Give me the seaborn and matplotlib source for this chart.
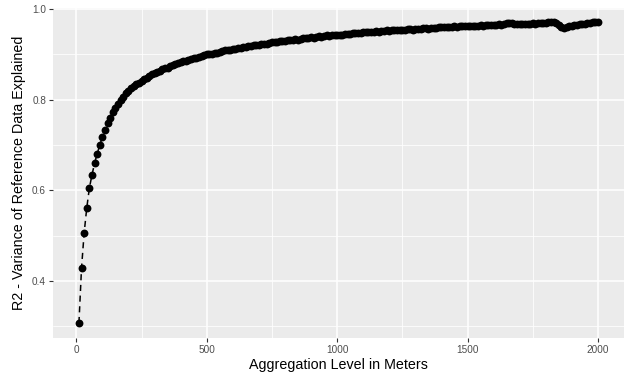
"""
R2 vs aggregation level (ggplot-like grey theme)
"""
import matplotlib
matplotlib.use("Agg")
import matplotlib.pyplot as plt
import pandas as pd
import seaborn as sns

# aggregation levels in meters (every 10 m)
agg_level = list(range(10, 2001, 10))

r2 = [
    0.307, 0.429, 0.506, 0.561, 0.605, 0.634, 0.660, 0.681, 0.700, 0.718,
    0.733, 0.748, 0.760, 0.772, 0.782, 0.791, 0.800, 0.807, 0.814, 0.820,
    0.825, 0.830, 0.834, 0.838, 0.842, 0.846, 0.849, 0.852, 0.856, 0.859,
    0.862, 0.864, 0.867, 0.870, 0.871, 0.874, 0.877, 0.878, 0.881, 0.883,
    0.885, 0.886, 0.888, 0.890, 0.892, 0.893, 0.894, 0.896, 0.898, 0.900,
    0.901, 0.902, 0.904, 0.904, 0.906, 0.907, 0.909, 0.909, 0.911, 0.912,
    0.913, 0.914, 0.915, 0.917, 0.917, 0.918, 0.919, 0.921, 0.921, 0.922,
    0.923, 0.924, 0.924, 0.926, 0.927, 0.927, 0.928, 0.929, 0.930, 0.930,
    0.931, 0.932, 0.933, 0.934, 0.933, 0.935, 0.936, 0.936, 0.937, 0.938,
    0.937, 0.939, 0.940, 0.939, 0.941, 0.942, 0.941, 0.943, 0.943, 0.944,
    0.944, 0.943, 0.945, 0.946, 0.945, 0.947, 0.947, 0.948, 0.947, 0.949,
    0.949, 0.950, 0.949, 0.950, 0.951, 0.950, 0.952, 0.952, 0.953, 0.952,
    0.953, 0.954, 0.953, 0.955, 0.955, 0.954, 0.956, 0.956, 0.955, 0.957,
    0.957, 0.956, 0.958, 0.958, 0.957, 0.959, 0.959, 0.958, 0.960, 0.960,
    0.960, 0.961, 0.960, 0.961, 0.962, 0.961, 0.962, 0.963, 0.962, 0.963,
    0.963, 0.964, 0.963, 0.964, 0.965, 0.964, 0.965, 0.966, 0.965, 0.966,
    0.966, 0.967, 0.966, 0.968, 0.969, 0.970, 0.969, 0.968, 0.967, 0.967,
    0.967, 0.968, 0.967, 0.968, 0.969, 0.968, 0.969, 0.970, 0.969, 0.970,
    0.971, 0.971, 0.972, 0.970, 0.966, 0.961, 0.959, 0.961, 0.963, 0.964,
    0.965, 0.966, 0.967, 0.968, 0.968, 0.969, 0.970, 0.971, 0.971, 0.972,
]

x_ticks = [0, 500, 1000, 1500, 2000]
y_ticks = [0.4, 0.6, 0.8, 1.0]
x_minor = [250, 750, 1250, 1750]
y_minor = [0.3, 0.5, 0.7, 0.9]

df = pd.DataFrame({"agg": agg_level, "r2": r2})

sns.set_theme(style="darkgrid", rc={
    "axes.facecolor": "#EBEBEB",
    "grid.color": "white",
    "axes.edgecolor": "none",
})
plt.rcParams["font.family"] = ["Liberation Sans", "DejaVu Sans"]

fig = plt.figure(figsize=(6.27, 3.74), dpi=100)
ax = fig.add_axes([0.0845, 0.0963, 0.9105, 0.8827])

sns.lineplot(data=df, x="agg", y="r2", ax=ax, color="black", linewidth=1.1,
             linestyle=(0, (4, 3)), zorder=3)
sns.scatterplot(data=df, x="agg", y="r2", ax=ax, color="black", s=32,
                edgecolor="black", linewidth=0, zorder=4)

ax.set_xlim(-89.5, 2099.5)
ax.set_ylim(0.274, 1.003)
ax.set_xticks(x_ticks)
ax.set_yticks(y_ticks)
ax.set_xticklabels([str(v) for v in x_ticks])
ax.set_yticklabels([f"{v:.1f}" for v in y_ticks])
ax.set_xticks(x_minor, minor=True)
ax.set_yticks(y_minor, minor=True)
ax.grid(which="major", color="white", linewidth=1.1)
ax.grid(which="minor", color="white", linewidth=0.55)

ax.tick_params(axis="both", which="major", length=3, width=0.8, color="#333333",
               labelcolor="#4D4D4D", labelsize=7.2, pad=2, bottom=True, left=True)
ax.tick_params(axis="both", which="minor", length=0)

ax.set_xlabel("Aggregation Level in Meters", fontsize=10.3, color="black", labelpad=2)
ax.set_ylabel("R2 - Variance of Reference Data Explained", fontsize=10.3,
              color="black", labelpad=4)

fig.savefig("out.png", dpi=100)
plt.close(fig)
